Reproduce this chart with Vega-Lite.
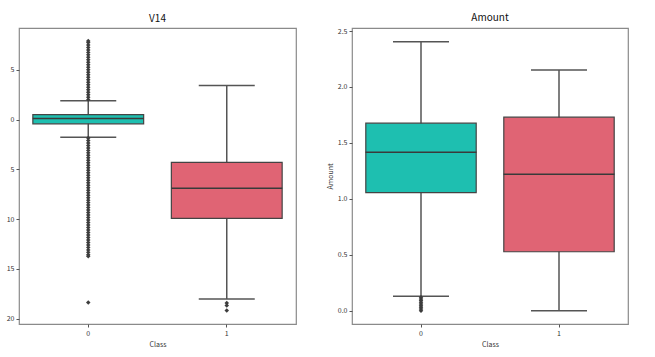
{
  "$schema": "https://vega.github.io/schema/vega-lite/v6.json",
  "padding": {"left": 5, "top": 12, "right": 5, "bottom": 5},
  "background": "white",
  "config": {
    "font": "Noto Sans CJK SC",
    "view": {"stroke": "#8a8a8a", "strokeWidth": 1.2},
    "axis": {"domain": false, "grid": false, "tickSize": 3, "tickColor": "#555", "labelFontSize": 7, "labelColor": "#333333", "titleFontSize": 7, "titleFontWeight": "normal", "titleColor": "#333333", "labelPadding": 2},
    "title": {"fontSize": 10, "fontWeight": "normal", "offset": 4, "color": "#111"},
    "concat": {"spacing": 28}
  },
  "datasets": {
    "v14": [
      {"Class": "0", "lower": -1.77, "q1": -0.43, "median": 0.1, "q3": 0.5, "upper": 1.9},
      {"Class": "1", "lower": -18.03, "q1": -9.93, "median": -6.9, "q3": -4.3, "upper": 3.43}
    ],
    "v14out": [
      {"Class": "0", "value": 2.0}, {"Class": "0", "value": 2.25}, {"Class": "0", "value": 2.5}, {"Class": "0", "value": 2.75},
      {"Class": "0", "value": 3.0}, {"Class": "0", "value": 3.25}, {"Class": "0", "value": 3.5}, {"Class": "0", "value": 3.75},
      {"Class": "0", "value": 4.0}, {"Class": "0", "value": 4.25}, {"Class": "0", "value": 4.5}, {"Class": "0", "value": 4.75},
      {"Class": "0", "value": 5.0}, {"Class": "0", "value": 5.25}, {"Class": "0", "value": 5.5}, {"Class": "0", "value": 5.75},
      {"Class": "0", "value": 6.0}, {"Class": "0", "value": 6.25}, {"Class": "0", "value": 6.5}, {"Class": "0", "value": 6.75},
      {"Class": "0", "value": 7.0}, {"Class": "0", "value": 7.25}, {"Class": "0", "value": 7.5}, {"Class": "0", "value": 7.75},
      {"Class": "0", "value": 7.9},
      {"Class": "0", "value": -1.85}, {"Class": "0", "value": -2.1}, {"Class": "0", "value": -2.35}, {"Class": "0", "value": -2.6},
      {"Class": "0", "value": -2.85}, {"Class": "0", "value": -3.1}, {"Class": "0", "value": -3.35}, {"Class": "0", "value": -3.6},
      {"Class": "0", "value": -3.85}, {"Class": "0", "value": -4.1}, {"Class": "0", "value": -4.35}, {"Class": "0", "value": -4.6},
      {"Class": "0", "value": -4.85}, {"Class": "0", "value": -5.1}, {"Class": "0", "value": -5.35}, {"Class": "0", "value": -5.6},
      {"Class": "0", "value": -5.85}, {"Class": "0", "value": -6.1}, {"Class": "0", "value": -6.35}, {"Class": "0", "value": -6.6},
      {"Class": "0", "value": -6.85}, {"Class": "0", "value": -7.1}, {"Class": "0", "value": -7.35}, {"Class": "0", "value": -7.6},
      {"Class": "0", "value": -7.85}, {"Class": "0", "value": -8.1}, {"Class": "0", "value": -8.35}, {"Class": "0", "value": -8.6},
      {"Class": "0", "value": -8.85}, {"Class": "0", "value": -9.1}, {"Class": "0", "value": -9.35}, {"Class": "0", "value": -9.6},
      {"Class": "0", "value": -9.85}, {"Class": "0", "value": -10.1}, {"Class": "0", "value": -10.35}, {"Class": "0", "value": -10.6},
      {"Class": "0", "value": -10.85}, {"Class": "0", "value": -11.1}, {"Class": "0", "value": -11.35}, {"Class": "0", "value": -11.6},
      {"Class": "0", "value": -11.85}, {"Class": "0", "value": -12.1}, {"Class": "0", "value": -12.35}, {"Class": "0", "value": -12.6},
      {"Class": "0", "value": -12.85}, {"Class": "0", "value": -13.1}, {"Class": "0", "value": -13.35}, {"Class": "0", "value": -13.6},
      {"Class": "0", "value": -13.75}, {"Class": "0", "value": -18.4},
      {"Class": "1", "value": -18.45}, {"Class": "1", "value": -18.7}, {"Class": "1", "value": -19.2}
    ],
    "amount": [
      {"Class": "0", "lower": 0.128, "q1": 1.056, "median": 1.417, "q3": 1.676, "upper": 2.405},
      {"Class": "1", "lower": 0.0, "q1": 0.527, "median": 1.22, "q3": 1.73, "upper": 2.152}
    ],
    "amountout": [
      {"Class": "0", "value": 0.0}, {"Class": "0", "value": 0.015}, {"Class": "0", "value": 0.03}, {"Class": "0", "value": 0.045},
      {"Class": "0", "value": 0.06}, {"Class": "0", "value": 0.075}, {"Class": "0", "value": 0.09}, {"Class": "0", "value": 0.105},
      {"Class": "0", "value": 0.12}
    ]
  },
  "hconcat": [
    {
      "width": 277, "height": 296,
      "title": "V14",
      "encoding": {
        "x": {"field": "Class", "type": "nominal", "scale": {"domain": ["0", "1"], "paddingInner": 0, "paddingOuter": 0}, "axis": {"labelAngle": 0, "title": "Class", "labelColor": "#333333"}}
      },
      "layer": [
        {
          "data": {"name": "v14"},
          "mark": {"type": "rule", "color": "#555", "strokeWidth": 1.5},
          "encoding": {
            "y": {"field": "lower", "type": "quantitative", "title": null, "scale": {"domain": [-20.55, 9.2], "nice": false, "zero": false}, "axis": {"values": [-20, -15, -10, -5, 0, 5], "labelExpr": "abs(datum.value)"}},
            "y2": {"field": "upper"}
          }
        },
        {
          "data": {"name": "v14"},
          "mark": {"type": "bar", "width": {"band": 0.8}, "stroke": "#444", "strokeWidth": 1.2},
          "encoding": {
            "y": {"field": "q1", "type": "quantitative", "title": null},
            "y2": {"field": "q3"},
            "color": {"field": "Class", "type": "nominal", "scale": {"domain": ["0", "1"], "range": ["#1ebfb0", "#e06474"]}, "legend": null}
          }
        },
        {
          "data": {"name": "v14"},
          "mark": {"type": "tick", "size": 111, "thickness": 1.5, "color": "#3a3a3a", "opacity": 1},
          "encoding": {"y": {"field": "median", "type": "quantitative", "title": null}}
        },
        {
          "data": {"name": "v14"},
          "mark": {"type": "tick", "size": 56, "thickness": 1.5, "color": "#555", "opacity": 1},
          "encoding": {"y": {"field": "lower", "type": "quantitative", "title": null}}
        },
        {
          "data": {"name": "v14"},
          "mark": {"type": "tick", "size": 56, "thickness": 1.5, "color": "#555", "opacity": 1},
          "encoding": {"y": {"field": "upper", "type": "quantitative", "title": null}}
        },
        {
          "data": {"name": "v14out"},
          "mark": {"type": "point", "shape": "diamond", "filled": true, "color": "#3d3d3d", "size": 20, "opacity": 1},
          "encoding": {"y": {"field": "value", "type": "quantitative", "title": null}}
        }
      ]
    },
    {
      "width": 276, "height": 296,
      "title": "Amount",
      "encoding": {
        "x": {"field": "Class", "type": "nominal", "scale": {"domain": ["0", "1"], "paddingInner": 0, "paddingOuter": 0}, "axis": {"labelAngle": 0, "title": "Class", "labelColor": "#333333"}}
      },
      "layer": [
        {
          "data": {"name": "amount"},
          "mark": {"type": "rule", "color": "#555", "strokeWidth": 1.5},
          "encoding": {
            "y": {"field": "lower", "type": "quantitative", "title": "Amount", "scale": {"domain": [-0.119, 2.527], "nice": false, "zero": false}, "axis": {"values": [0, 0.5, 1, 1.5, 2, 2.5], "format": ".1f"}},
            "y2": {"field": "upper"}
          }
        },
        {
          "data": {"name": "amount"},
          "mark": {"type": "bar", "width": {"band": 0.8}, "stroke": "#444", "strokeWidth": 1.2},
          "encoding": {
            "y": {"field": "q1", "type": "quantitative", "title": "Amount"},
            "y2": {"field": "q3"},
            "color": {"field": "Class", "type": "nominal", "scale": {"domain": ["0", "1"], "range": ["#1ebfb0", "#e06474"]}, "legend": null}
          }
        },
        {
          "data": {"name": "amount"},
          "mark": {"type": "tick", "size": 111, "thickness": 1.5, "color": "#3a3a3a", "opacity": 1},
          "encoding": {"y": {"field": "median", "type": "quantitative", "title": "Amount"}}
        },
        {
          "data": {"name": "amount"},
          "mark": {"type": "tick", "size": 56, "thickness": 1.5, "color": "#555", "opacity": 1},
          "encoding": {"y": {"field": "lower", "type": "quantitative", "title": "Amount"}}
        },
        {
          "data": {"name": "amount"},
          "mark": {"type": "tick", "size": 56, "thickness": 1.5, "color": "#555", "opacity": 1},
          "encoding": {"y": {"field": "upper", "type": "quantitative", "title": "Amount"}}
        },
        {
          "data": {"name": "amountout"},
          "mark": {"type": "point", "shape": "diamond", "filled": true, "color": "#3d3d3d", "size": 20, "opacity": 1},
          "encoding": {"y": {"field": "value", "type": "quantitative", "title": "Amount"}}
        }
      ]
    }
  ]
}
